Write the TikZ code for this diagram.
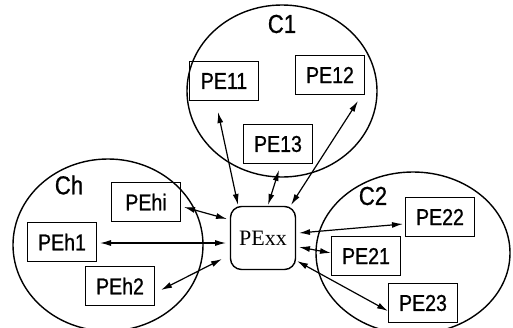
\documentclass[tikz,border=0pt]{standalone}
\usepackage{fontspec}
\setmainfont{Liberation Serif}
\newfontfamily\labfont[FakeStretch=0.85,FakeBold=0.8]{Liberation Sans}
\usetikzlibrary{arrows.meta,shapes.geometric}
\tikzset{
  pebox/.style={draw, line width=1.4pt, rectangle, inner sep=0pt, minimum width=69pt, minimum height=39pt, font=\labfont\fontsize{23}{23}\selectfont},
  grp/.style={draw, line width=1.4pt, ellipse, inner sep=0pt},
  grplabel/.style={inner sep=0pt, font=\labfont\fontsize{26}{26}\selectfont},
  hub/.style={draw, line width=1.4pt, rounded corners=11pt, inner sep=0pt, minimum width=65pt, minimum height=63pt, font=\fontsize{22}{22}\selectfont},
  dbl/.style={line width=1.2pt, {Latex[length=11pt,width=6pt]}-{Latex[length=11pt,width=6pt]}}
}
\begin{document}
\begin{tikzpicture}[x=1pt,y=-1pt]
\useasboundingbox (0,0) rectangle (513,327);
% group ellipses
\node[grp, minimum width=190pt, minimum height=172pt] (C1e) at (282,91) {};
\node[grp, minimum width=190pt, minimum height=172pt] (Che) at (108,245) {};
\node[grp, minimum width=194pt, minimum height=162pt] (C2e) at (413,253) {};
% group labels
\node[grplabel] (C1) at (282,24) {C1};
\node[grplabel] (Ch) at (69,185) {Ch};
\node[grplabel] (C2) at (373,196) {C2};
% boxes
\node[pebox] (PE11) at (224,81) {PE11};
\node[pebox] (PE12) at (330,75) {PE12};
\node[pebox] (PE13) at (278,144) {PE13};
\node[pebox] (PEhi) at (146,202) {PEhi};
\node[pebox] (PEh1) at (62,242) {PEh1};
\node[pebox] (PEh2) at (120,286) {PEh2};
\node[pebox] (PE22) at (440,217) {PE22};
\node[pebox] (PE21) at (366,256) {PE21};
\node[pebox] (PE23) at (423,303) {PE23};
\node[hub] (PExx) at (263,238) {PExx};
% connector end points
\coordinate (x11) at (238,205); \coordinate (e11) at (218,112);
\coordinate (x13) at (268,205); \coordinate (e13) at (279,170);
\coordinate (x12) at (291,205); \coordinate (e12) at (358,101);
\coordinate (xhi) at (227,219); \coordinate (ehi) at (184,207);
\coordinate (xh1) at (226,243); \coordinate (eh1) at (100,243);
\coordinate (xh2) at (222,259); \coordinate (eh2) at (161,290);
\coordinate (x22) at (299,233); \coordinate (e22) at (403,224);
\coordinate (x21) at (299,247); \coordinate (e21) at (331,253);
\coordinate (x23) at (297,261); \coordinate (e23) at (388,311);
\draw[dbl] (x11) -- (e11);
\draw[dbl] (x13) -- (e13);
\draw[dbl] (x12) -- (e12);
\draw[dbl] (xhi) -- (ehi);
\draw[dbl] (xh1) -- (eh1);
\draw[dbl] (xh2) -- (eh2);
\draw[dbl] (x22) -- (e22);
\draw[dbl] (x21) -- (e21);
\draw[dbl] (x23) -- (e23);
\end{tikzpicture}
\end{document}
